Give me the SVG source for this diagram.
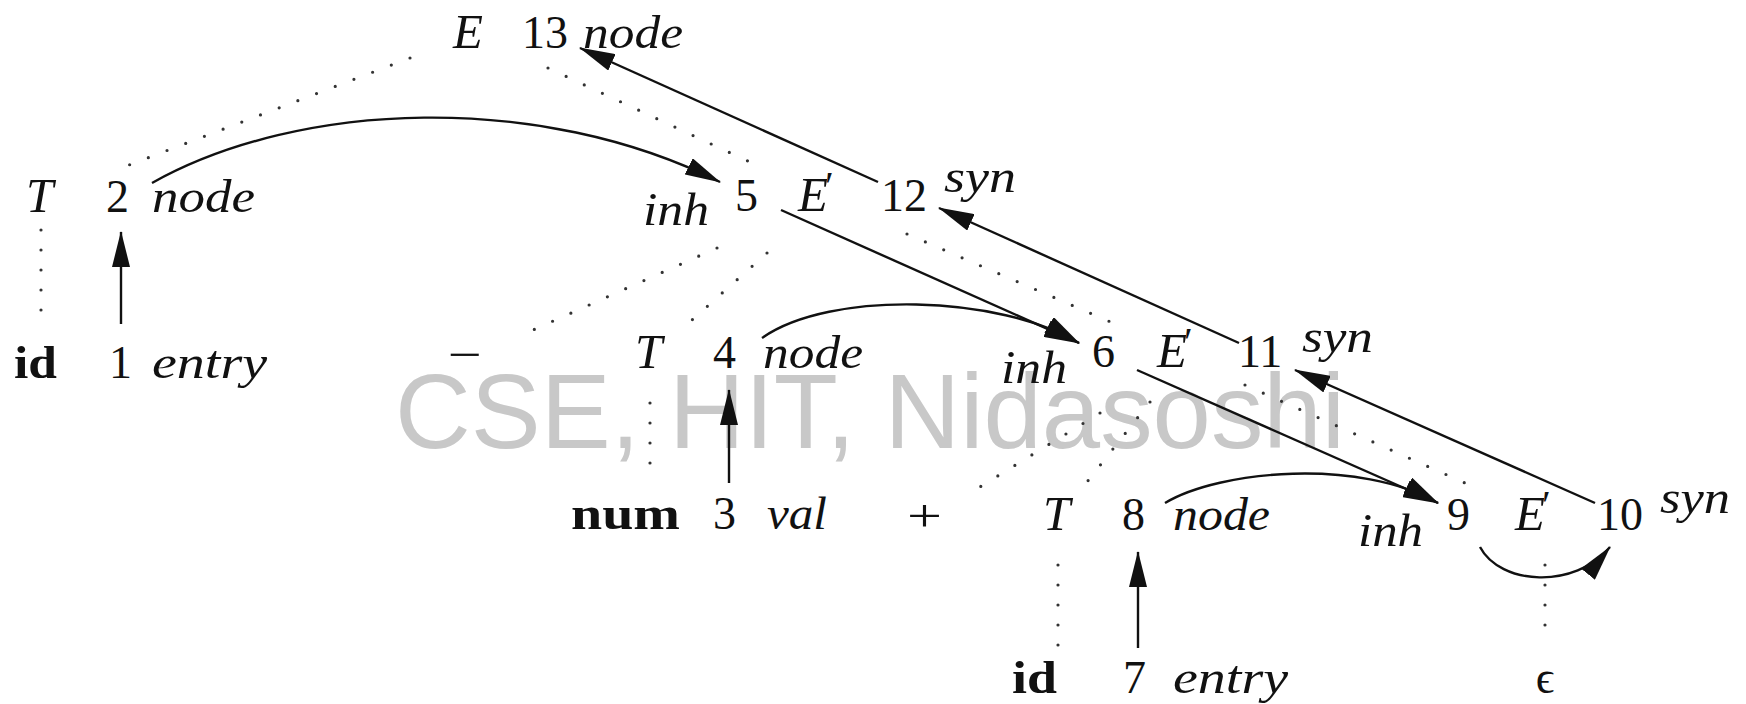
<svg xmlns="http://www.w3.org/2000/svg" width="1746" height="704" viewBox="0 0 1746 704">
<style>
text{font-family:"Liberation Serif","DejaVu Serif",serif;font-size:46px;fill:#111}
.it{font-style:italic}
.bf{font-weight:bold}
.cap{font-size:49px;font-style:italic}
.pr{font-size:40px;font-style:normal}
.wm{font-family:"Liberation Sans",Arial,sans-serif;font-size:105px;fill:#c8c8c8}
.dot{stroke:#333;stroke-width:3.2;stroke-linecap:round;stroke-dasharray:0 20;fill:none}
.arr{stroke:#111;stroke-width:2.4;fill:none;marker-end:url(#ah)}
</style>
<defs>
<marker id="ah" viewBox="0 0 36 18" refX="35" refY="9" markerWidth="36" markerHeight="18" markerUnits="userSpaceOnUse" orient="auto">
<path d="M0,0 L36,9 L0,18 Z" fill="#111"/>
</marker>
</defs>
<rect width="1746" height="704" fill="#fff"/>
<text class="wm" x="395" y="448" textLength="950" lengthAdjust="spacingAndGlyphs">CSE, HIT, Nidasoshi</text>
<g id="connectors">
<path class="dot" d="M410,58 L129,165"/>
<path class="dot" d="M548,68 L752,163"/>
<path class="dot" d="M41,230 L41,325"/>
<path class="dot" d="M717,248 L533,330"/>
<path class="dot" d="M767,253 L692,320"/>
<path class="dot" d="M907,234 L1113,323"/>
<path class="dot" d="M650,403 L650,483"/>
<path class="dot" d="M1100,413 L975,490"/>
<path class="dot" d="M1150,402 L1083,487"/>
<path class="dot" d="M1245,385 L1465,483"/>
<path class="dot" d="M1058,565 L1058,647"/>
<path class="dot" d="M1545,565 L1545,645"/>
<path class="arr" d="M121,324 L121,232"/>
<path class="arr" d="M729,483 L729,390"/>
<path class="arr" d="M1138,648 L1138,552"/>
<path class="arr" d="M152,183 C300,100 540,92 720,182"/>
<path class="arr" d="M781,210 L1079,343"/>
<path class="arr" d="M762,338 C830,290 1000,295 1079,343"/>
<path class="arr" d="M1137,370 L1438,503"/>
<path class="arr" d="M1165,503 C1220,470 1360,458 1438,503"/>
<path class="arr" d="M1480,547 C1500,585 1575,590 1610,547"/>
<path class="arr" d="M1595,503 L1295,370"/>
<path class="arr" d="M1239,343 L939,208"/>
<path class="arr" d="M878,182 L580,48"/>
</g>
<g id="node-E13">
<text class="cap" x="453" y="48">E</text>
<text x="522" y="48">13</text>
<text class="it" x="583" y="48" textLength="100" lengthAdjust="spacingAndGlyphs">node</text>
</g>
<g id="node-T2">
<text class="cap" x="26" y="212">T</text>
<text x="106" y="212">2</text>
<text class="it" x="152" y="212" textLength="103" lengthAdjust="spacingAndGlyphs">node</text>
</g>
<g id="node-E5">
<text class="it" x="643" y="225" textLength="66" lengthAdjust="spacingAndGlyphs">inh</text>
<text x="735" y="211">5</text>
<text class="cap" x="798" y="211">E<tspan class="pr" dx="-3" dy="-12">′</tspan></text>
<text x="881" y="211">12</text>
<text class="it" x="944" y="192" textLength="72" lengthAdjust="spacingAndGlyphs">syn</text>
</g>
<g id="node-id1">
<text class="bf" x="14" y="378" textLength="43" lengthAdjust="spacingAndGlyphs">id</text>
<text x="109" y="378">1</text>
<text class="it" x="152" y="378" textLength="115" lengthAdjust="spacingAndGlyphs">entry</text>
</g>
<g id="node-minus">
<text x="448" y="370" textLength="34" lengthAdjust="spacingAndGlyphs">−</text>
</g>
<g id="node-T4">
<text class="cap" x="635" y="368">T</text>
<text x="713" y="368">4</text>
<text class="it" x="763" y="368" textLength="100" lengthAdjust="spacingAndGlyphs">node</text>
</g>
<g id="node-E6">
<text class="it" x="1001" y="383" textLength="66" lengthAdjust="spacingAndGlyphs">inh</text>
<text x="1092" y="367">6</text>
<text class="cap" x="1157" y="367">E<tspan class="pr" dx="-3" dy="-12">′</tspan></text>
<text x="1238" y="367">11</text>
<text class="it" x="1302" y="352" textLength="71" lengthAdjust="spacingAndGlyphs">syn</text>
</g>
<g id="node-num3">
<text class="bf" x="571" y="529" textLength="109" lengthAdjust="spacingAndGlyphs">num</text>
<text x="713" y="529">3</text>
<text class="it" x="767" y="529" textLength="60" lengthAdjust="spacingAndGlyphs">val</text>
</g>
<g id="node-plus">
<text x="907" y="531" textLength="35" lengthAdjust="spacingAndGlyphs">+</text>
</g>
<g id="node-T8">
<text class="cap" x="1043" y="530">T</text>
<text x="1122" y="530">8</text>
<text class="it" x="1173" y="530" textLength="97" lengthAdjust="spacingAndGlyphs">node</text>
</g>
<g id="node-E9">
<text class="it" x="1358" y="546" textLength="65" lengthAdjust="spacingAndGlyphs">inh</text>
<text x="1447" y="530">9</text>
<text class="cap" x="1515" y="530">E<tspan class="pr" dx="-3" dy="-12">′</tspan></text>
<text x="1597" y="530">10</text>
<text class="it" x="1660" y="513" textLength="70" lengthAdjust="spacingAndGlyphs">syn</text>
</g>
<g id="node-id7">
<text class="bf" x="1012" y="693" textLength="45" lengthAdjust="spacingAndGlyphs">id</text>
<text x="1123" y="693">7</text>
<text class="it" x="1173" y="693" textLength="115" lengthAdjust="spacingAndGlyphs">entry</text>
</g>
<g id="node-eps">
<text x="1545" y="693" text-anchor="middle">ϵ</text>
</g>
</svg>
